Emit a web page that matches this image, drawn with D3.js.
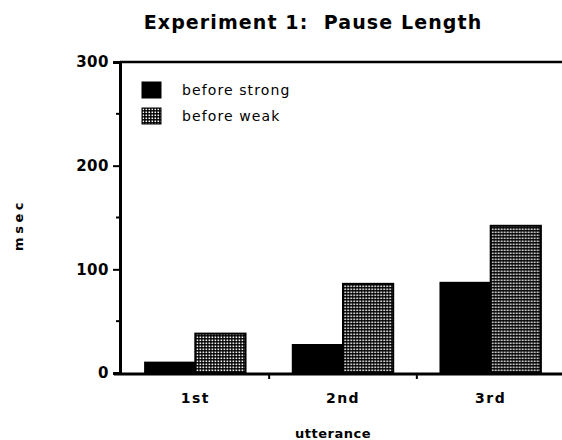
<!DOCTYPE html>
<html>
<head>
<meta charset="utf-8">
<script src="https://cdn.jsdelivr.net/npm/d3@7"></script>
<style>
  body { margin: 0; background: #fff; }
  text { font-family: "DejaVu Sans", "Liberation Sans", Arial, sans-serif; fill: #000; }
</style>
</head>
<body>
<script>

var w = 562;
var h = 440;

// data
var categories = ["1st", "2nd", "3rd"];
var series = ["before strong", "before weak"];
var beforeStrong = [10, 27, 87];
var beforeWeak = [38, 86, 142];
var yTicks = [0, 100, 200, 300];
var yMinor = [50, 150, 250];

var font = "'DejaVu Sans', 'Liberation Sans', Arial, sans-serif";

var svg = d3.select("body")
    .append("svg")
    .attr("width", w)
    .attr("height", h);

// stipple fill for the "before weak" bars
var defs = svg.append("defs");
var pat = defs.append("pattern")
    .attr("id", "stip")
    .attr("patternUnits", "userSpaceOnUse")
    .attr("width", 3)
    .attr("height", 3);
pat.append("rect").attr("width", 3).attr("height", 3).attr("fill", "#000");
pat.append("rect").attr("x", 0.5).attr("y", 0.5)
    .attr("width", 1.6).attr("height", 1.6).attr("fill", "#fff");

// plot edges (don't call these top/left, window.top is taken)
var pLeft = 120, pRight = 566, pTop = 62, pBottom = 373;

var y = d3.scaleLinear().domain([0, 300]).range([pBottom, pTop]);
var x0 = d3.scaleBand().domain(categories).range([pLeft, pRight])
    .paddingInner(0.32).paddingOuter(0.17);
var x1 = d3.scaleBand().domain(series).range([0, x0.bandwidth()]);

// bars
var rows = categories.map(function(c, i) {
    return { cat: c, vals: [beforeStrong[i], beforeWeak[i]] };
});

var groups = svg.selectAll(".grp")
    .data(rows)
    .enter()
    .append("g")
    .attr("transform", function(d) { return "translate(" + x0(d.cat) + ",0)"; });

groups.selectAll("rect")
    .data(function(d) { return d.vals.map(function(v, j) { return { s: series[j], v: v, j: j }; }); })
    .enter()
    .append("rect")
    .attr("x", function(d) { return x1(d.s); })
    .attr("y", function(d) { return y(d.v); })
    .attr("width", x1.bandwidth())
    .attr("height", function(d) { return pBottom - y(d.v); })
    .attr("fill", function(d) { return d.j == 0 ? "#000" : "url(#stip)"; })
    .attr("stroke", "#000")
    .attr("stroke-width", 2);

// y axis
var yAxis = d3.axisLeft(y).tickValues(yTicks).tickSize(7).tickPadding(4);
var gy = svg.append("g").attr("transform", "translate(" + pLeft + ",0)").call(yAxis);
gy.select(".domain").attr("stroke-width", 3);
gy.selectAll(".tick line").attr("stroke-width", 2);
gy.selectAll(".tick text")
    .attr("font-size", 15)
    .attr("font-weight", "bold")
    .attr("letter-spacing", 0.5)
    .attr("font-family", font);

gy.selectAll(".minor")
    .data(yMinor)
    .enter()
    .append("line")
    .attr("x1", -4).attr("x2", 0)
    .attr("y1", function(d) { return y(d); })
    .attr("y2", function(d) { return y(d); })
    .attr("stroke", "#000")
    .attr("stroke-width", 2);

// x axis
var xAxis = d3.axisBottom(x0).tickSize(0).tickPadding(19);
var gx = svg.append("g").attr("transform", "translate(0," + (pBottom + 1) + ")").call(xAxis);
gx.select(".domain").attr("stroke-width", 3).attr("d", "M" + (pLeft - 6) + ",0H" + w);
gx.selectAll(".tick text")
    .attr("font-size", 14)
    .attr("font-weight", "bold")
    .attr("letter-spacing", 1.5)
    .attr("font-family", font);

// separators between groups
gx.selectAll(".sep")
    .data(categories.slice(1))
    .enter()
    .append("line")
    .attr("x1", function(d) { return x0(d) - x0.step() * 0.16; })
    .attr("x2", function(d) { return x0(d) - x0.step() * 0.16; })
    .attr("y1", 0).attr("y2", 5)
    .attr("stroke", "#000")
    .attr("stroke-width", 2);

// top frame line
svg.append("line")
    .attr("x1", pLeft).attr("x2", w)
    .attr("y1", pTop).attr("y2", pTop)
    .attr("stroke", "#000")
    .attr("stroke-width", 2.5);

// title
svg.append("text")
    .attr("x", 313).attr("y", 29)
    .attr("text-anchor", "middle")
    .attr("font-size", 19)
    .attr("font-weight", "bold")
    .attr("letter-spacing", 1.1)
    .style("white-space", "pre")
    .text("Experiment 1:  Pause Length");

// axis titles
svg.append("text")
    .attr("x", 333).attr("y", 438)
    .attr("text-anchor", "middle")
    .attr("font-size", 13)
    .attr("font-weight", "bold")
    .attr("letter-spacing", 0.5)
    .text("utterance");

svg.append("text")
    .attr("transform", "translate(23,225) rotate(-90)")
    .attr("text-anchor", "middle")
    .attr("font-size", 13)
    .attr("font-weight", "bold")
    .attr("letter-spacing", 3.5)
    .text("msec");

// legend
var leg = svg.selectAll(".leg")
    .data(series)
    .enter()
    .append("g")
    .attr("transform", function(d, i) { return "translate(142," + (82 + i * 26) + ")"; });

leg.append("rect")
    .attr("width", 19).attr("height", 16)
    .attr("fill", function(d, i) { return i == 0 ? "#000" : "url(#stip)"; })
    .attr("stroke", "#000")
    .attr("stroke-width", 1);

leg.append("text")
    .attr("x", 40).attr("y", 13)
    .attr("font-size", 14)
    .attr("letter-spacing", 1.1)
    .text(function(d) { return d; });

</script>
</body>
</html>
